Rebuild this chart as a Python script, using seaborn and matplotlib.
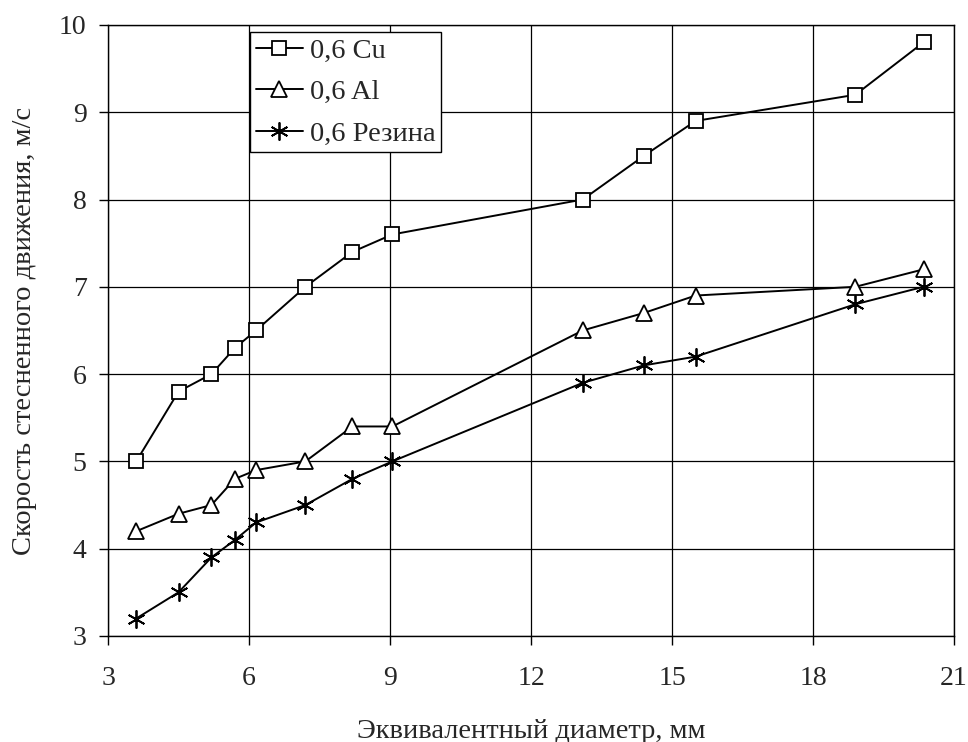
import pandas as pd
import matplotlib
matplotlib.use("Agg")
import matplotlib.pyplot as plt
import seaborn as sns

# equivalent diameter, mm
diameter = [3.6, 4.5, 5.2, 5.7, 6.15, 7.2, 8.2, 9.05, 13.1, 14.4, 15.5, 18.9, 20.35]
# hindered settling velocity, m/s
speed_cu = [5.0, 5.8, 6.0, 6.3, 6.5, 7.0, 7.4, 7.6, 8.0, 8.5, 8.9, 9.2, 9.8]
speed_al = [4.2, 4.4, 4.5, 4.8, 4.9, 5.0, 5.4, 5.4, 6.5, 6.7, 6.9, 7.0, 7.2]
speed_rubber = [3.2, 3.5, 3.9, 4.1, 4.3, 4.5, 4.8, 5.0, 5.9, 6.1, 6.2, 6.8, 7.0]
series_names = ["0,6 Cu", "0,6 Al", "0,6 Резина"]

x_ticks = [3, 6, 9, 12, 15, 18, 21]
y_ticks = [3, 4, 5, 6, 7, 8, 9, 10]

sns.set_theme(style="white")
plt.rcParams["font.family"] = ["Liberation Serif", "DejaVu Serif"]

fig = plt.figure(figsize=(9.68, 7.42), dpi=100)
ax = fig.add_axes([0.1116, 0.1429, 0.874, 0.8235])

markers = ["s", "^", (6, 2, 0)]
sizes = [10.5, 11, 13]
for name, vals, mk, ms in zip(series_names, [speed_cu, speed_al, speed_rubber], markers, sizes):
    df = pd.DataFrame({"d": diameter, "v": vals})
    sns.lineplot(data=df, x="d", y="v", marker=mk, color="black", linewidth=1.4,
                 markersize=ms, markeredgecolor="black", markerfacecolor="white",
                 markeredgewidth=1.3, ax=ax, sort=False, label=name)

ax.set_xlim(3, 21)
ax.set_ylim(3, 10)
ax.set_xticks(x_ticks)
ax.set_yticks(y_ticks)
ax.grid(True, color="black", linewidth=0.9)
for s in ax.spines.values():
    s.set_color("black")
    s.set_linewidth(1.0)
ax.tick_params(axis="both", which="major", bottom=True, left=True, direction="out",
               length=6.5, width=1, color="black", labelsize=20)
ax.tick_params(axis="x", pad=15)
ax.tick_params(axis="y", pad=9)

ax.set_xlabel("Эквивалентный диаметр, мм", fontsize=20.5, labelpad=20)
ax.set_ylabel("Скорость стесненного движения, м/с", fontsize=20.5, labelpad=16)

leg = ax.legend(loc="upper left", bbox_to_anchor=(0.1677, 0.9885), fontsize=20.5,
                frameon=True, fancybox=False, edgecolor="black", framealpha=1,
                handlelength=1.65, handletextpad=0.25, borderpad=0.2, labelspacing=0.55,
                borderaxespad=0)
leg.get_frame().set_linewidth(1.0)
for h in leg.get_lines():
    h.set_markerfacecolor("white")

fig.savefig("out.png", dpi=100)
